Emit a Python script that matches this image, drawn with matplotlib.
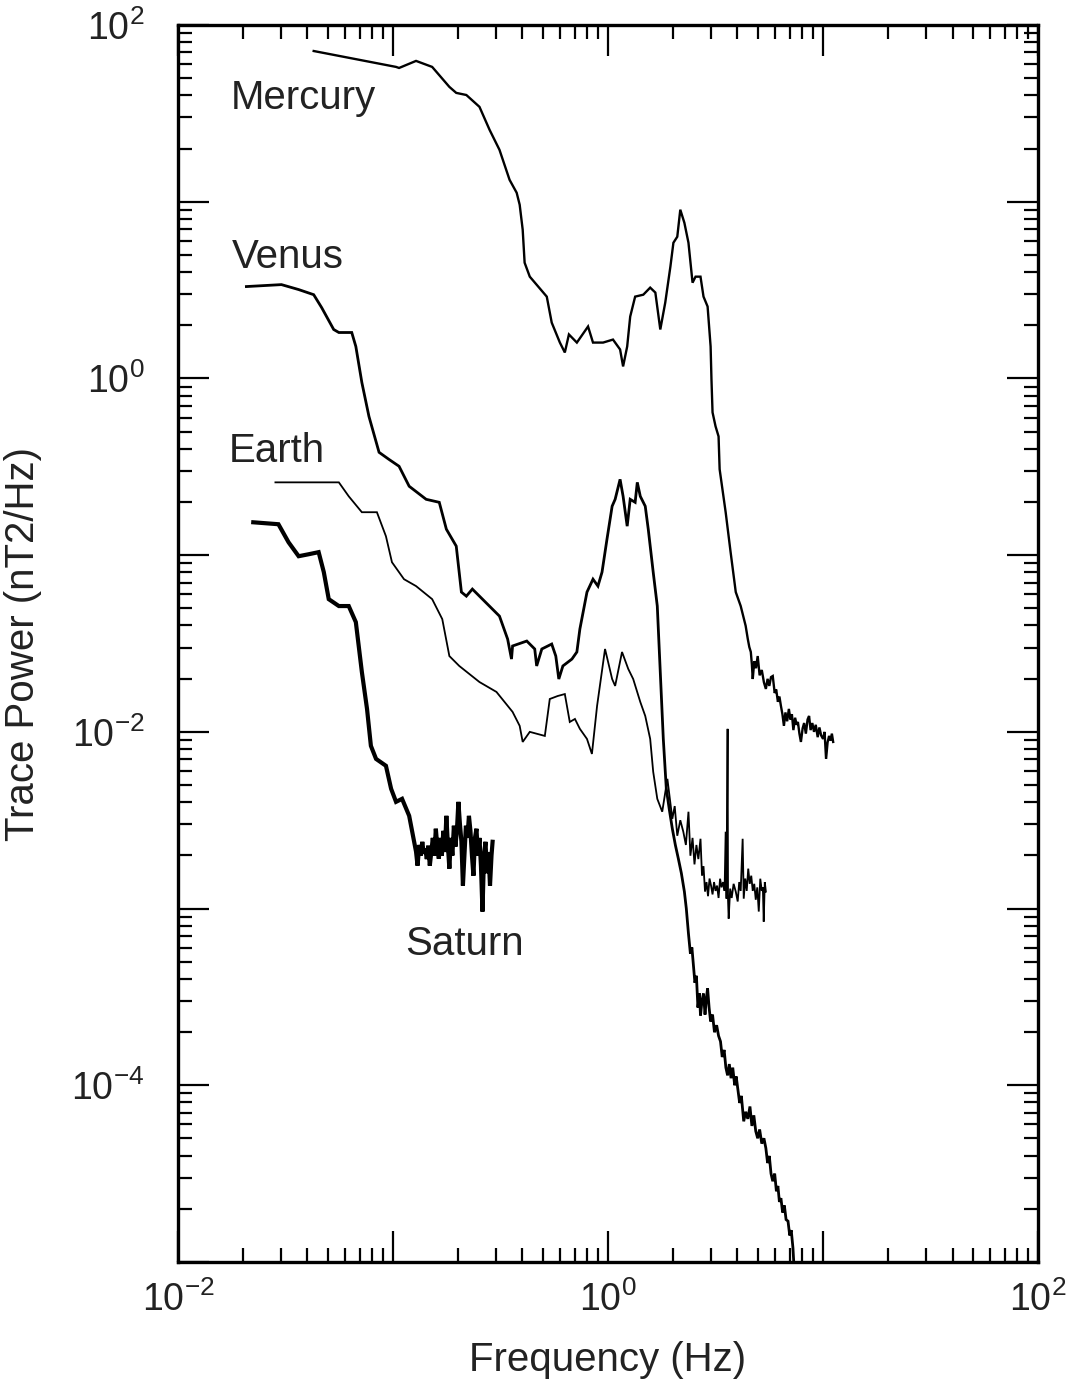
import numpy as np
import matplotlib
matplotlib.use("Agg")
import matplotlib.pyplot as plt
from matplotlib.ticker import FixedLocator, LogLocator, FuncFormatter, NullFormatter

plt.rcParams["font.family"] = ["Liberation Sans", "DejaVu Sans"]
plt.rcParams["mathtext.fontset"] = "custom"
plt.rcParams["mathtext.rm"] = "Liberation Sans"
plt.rcParams["mathtext.it"] = "Liberation Sans:italic"
plt.rcParams["mathtext.bf"] = "Liberation Sans:bold"

# Spectra as log10(frequency / Hz) and log10(power / nT^2 Hz^-1)
mercury_logf = [-1.369, -0.986, -0.972, -0.893, -0.818, -0.738, -0.706, -0.659, -0.598, -0.551,
                -0.505, -0.458, -0.425, -0.411, -0.397, -0.388, -0.364, -0.285, -0.262, -0.224,
                -0.201, -0.182, -0.145, -0.093, -0.070, -0.023, 0.023, 0.056, 0.070, 0.089,
                0.103, 0.126, 0.164, 0.196, 0.220, 0.243, 0.266, 0.290, 0.304, 0.322,
                0.336, 0.355, 0.374, 0.393, 0.407, 0.430, 0.444, 0.463, 0.477, 0.481,
                0.486, 0.500, 0.514, 0.519, 0.547, 0.570, 0.594, 0.617, 0.640, 0.650,
                0.657, 0.664, 0.669, 0.673, 0.680, 0.688, 0.696, 0.705, 0.715, 0.725,
                0.734, 0.742, 0.750, 0.758, 0.766, 0.775, 0.782, 0.790, 0.797, 0.804,
                0.811, 0.818, 0.825, 0.833, 0.841, 0.848, 0.855, 0.862, 0.870, 0.877,
                0.883, 0.890, 0.897, 0.905, 0.912, 0.920, 0.928, 0.935, 0.942, 0.950,
                0.958, 0.966, 0.975, 0.983, 0.991, 1.000, 1.007, 1.014, 1.021, 1.028,
                1.035, 1.041, 1.047]
mercury_logp = [1.853, 1.763, 1.757, 1.797, 1.763, 1.650, 1.616, 1.604, 1.537, 1.407,
                1.294, 1.124, 1.051, 0.983, 0.842, 0.655, 0.576, 0.463, 0.316, 0.203,
                0.147, 0.249, 0.203, 0.294, 0.203, 0.203, 0.220, 0.164, 0.068, 0.181,
                0.350, 0.463, 0.474, 0.514, 0.486, 0.277, 0.429, 0.633, 0.768, 0.802,
                0.955, 0.881, 0.768, 0.542, 0.576, 0.576, 0.463, 0.407, 0.181, -0.006,
                -0.192, -0.271, -0.328, -0.514, -0.757, -0.983, -1.209, -1.288, -1.400, -1.475,
                -1.520, -1.548, -1.620, -1.701, -1.600, -1.640, -1.571, -1.680, -1.650, -1.720,
                -1.757, -1.700, -1.740, -1.690, -1.684, -1.780, -1.760, -1.830, -1.800, -1.853,
                -1.900, -1.966, -1.890, -1.940, -1.870, -1.930, -1.900, -1.990, -1.920, -1.960,
                -1.944, -2.010, -2.057, -1.980, -1.950, -2.010, -1.930, -1.910, -1.990, -1.950,
                -2.000, -1.960, -2.030, -1.975, -2.020, -2.040, -2.000, -2.153, -2.060, -2.023,
                -2.050, -2.010, -2.057]

venus_logf = [-1.682, -1.519, -1.439, -1.369, -1.332, -1.276, -1.252, -1.192, -1.173, -1.145,
              -1.112, -1.065, -1.019, -0.972, -0.925, -0.846, -0.785, -0.752, -0.706, -0.682,
              -0.659, -0.631, -0.584, -0.505, -0.467, -0.449, -0.444, -0.378, -0.341, -0.332,
              -0.308, -0.262, -0.243, -0.229, -0.210, -0.168, -0.145, -0.131, -0.098, -0.070,
              -0.047, -0.028, -0.005, 0.019, 0.033, 0.056, 0.070, 0.089, 0.103, 0.126,
              0.136, 0.150, 0.173, 0.187, 0.210, 0.229, 0.243, 0.257, 0.271, 0.285,
              0.299, 0.313, 0.327, 0.341, 0.355, 0.364, 0.374, 0.383, 0.390, 0.397,
              0.404, 0.411, 0.418, 0.425, 0.430, 0.437, 0.444, 0.451, 0.458, 0.463,
              0.470, 0.477, 0.486, 0.495, 0.505, 0.514, 0.523, 0.531, 0.540, 0.548,
              0.556, 0.564, 0.572, 0.580, 0.589, 0.596, 0.603, 0.612, 0.620, 0.631,
              0.640, 0.650, 0.660, 0.669, 0.678, 0.687, 0.696, 0.705, 0.715, 0.725,
              0.734, 0.742, 0.750, 0.758, 0.766, 0.775, 0.783, 0.790, 0.797, 0.804,
              0.812, 0.820, 0.828, 0.837, 0.845, 0.852, 0.860, 0.865]
venus_logp = [0.520, 0.531, 0.503, 0.474, 0.401, 0.277, 0.260, 0.260, 0.181, -0.023,
              -0.215, -0.418, -0.458, -0.497, -0.610, -0.684, -0.701, -0.853, -0.949, -1.209,
              -1.232, -1.192, -1.249, -1.345, -1.475, -1.588, -1.514, -1.486, -1.531, -1.627,
              -1.531, -1.503, -1.571, -1.701, -1.627, -1.588, -1.548, -1.418, -1.209, -1.136,
              -1.175, -1.096, -0.910, -0.723, -0.684, -0.571, -0.667, -0.836, -0.684, -0.701,
              -0.588, -0.667, -0.723, -0.853, -1.096, -1.288, -1.661, -2.040, -2.322, -2.440,
              -2.548, -2.640, -2.718, -2.800, -2.904, -3.000, -3.142, -3.255, -3.220, -3.322,
              -3.420, -3.380, -3.560, -3.480, -3.605, -3.520, -3.481, -3.600, -3.500, -3.452,
              -3.560, -3.639, -3.600, -3.700, -3.660, -3.720, -3.752, -3.840, -3.800, -3.900,
              -3.944, -3.880, -3.960, -3.900, -4.000, -3.950, -4.017, -4.100, -4.060, -4.204,
              -4.150, -4.190, -4.120, -4.230, -4.170, -4.260, -4.300, -4.250, -4.330, -4.300,
              -4.356, -4.440, -4.400, -4.500, -4.543, -4.500, -4.600, -4.570, -4.660, -4.639,
              -4.720, -4.680, -4.760, -4.769, -4.850, -4.820, -4.921, -5.030]

earth_logf = [-1.547, -1.252, -1.206, -1.145, -1.075, -1.033, -1.005, -0.949, -0.893, -0.818,
              -0.771, -0.738, -0.692, -0.598, -0.519, -0.444, -0.411, -0.397, -0.364, -0.294,
              -0.271, -0.234, -0.201, -0.178, -0.154, -0.131, -0.098, -0.075, -0.051, -0.014,
              0.019, 0.033, 0.065, 0.094, 0.117, 0.150, 0.173, 0.196, 0.210, 0.229,
              0.252, 0.276, 0.299, 0.310, 0.322, 0.336, 0.350, 0.362, 0.374, 0.383,
              0.393, 0.402, 0.411, 0.420, 0.430, 0.437, 0.444, 0.451, 0.458, 0.465,
              0.472, 0.479, 0.486, 0.493, 0.500, 0.507, 0.514, 0.521, 0.528, 0.535,
              0.542, 0.547, 0.551, 0.556, 0.558, 0.561, 0.568, 0.575, 0.584, 0.594,
              0.603, 0.610, 0.617, 0.626, 0.631, 0.638, 0.645, 0.652, 0.659, 0.666,
              0.673, 0.680, 0.687, 0.694, 0.701, 0.708, 0.715, 0.720, 0.724, 0.729,
              0.734]
earth_logp = [-0.588, -0.588, -0.667, -0.757, -0.757, -0.893, -1.040, -1.136, -1.175, -1.249,
              -1.362, -1.571, -1.627, -1.718, -1.774, -1.887, -1.966, -2.057, -2.000, -2.023,
              -1.814, -1.797, -1.786, -1.944, -1.927, -1.983, -2.040, -2.125, -1.853, -1.531,
              -1.701, -1.740, -1.548, -1.644, -1.701, -1.831, -1.910, -2.040, -2.226, -2.379,
              -2.452, -2.266, -2.492, -2.420, -2.588, -2.500, -2.565, -2.640, -2.452, -2.701,
              -2.600, -2.750, -2.640, -2.720, -2.605, -2.814, -2.760, -2.904, -2.850, -2.930,
              -2.830, -2.870, -2.920, -2.850, -2.900, -2.870, -2.940, -2.831, -2.880, -2.850,
              -2.900, -2.565, -2.944, -1.983, -2.950, -3.057, -2.887, -2.940, -2.860, -2.904,
              -2.960, -2.850, -2.900, -2.605, -2.944, -2.830, -2.900, -2.774, -2.860, -2.814,
              -2.900, -2.860, -2.950, -2.880, -3.017, -2.831, -2.900, -2.880, -3.074, -2.850,
              -2.904]

saturn_logf = [-1.650, -1.533, -1.486, -1.439, -1.393, -1.346, -1.322, -1.299, -1.252, -1.206,
               -1.173, -1.145, -1.121, -1.103, -1.079, -1.033, -1.009, -0.986, -0.958, -0.925,
               -0.893, -0.886, -0.878, -0.871, -0.864, -0.857, -0.850, -0.843, -0.836, -0.829,
               -0.822, -0.815, -0.808, -0.801, -0.794, -0.787, -0.780, -0.773, -0.766, -0.759,
               -0.752, -0.745, -0.738, -0.731, -0.724, -0.717, -0.710, -0.703, -0.696, -0.689,
               -0.682, -0.675, -0.668, -0.661, -0.654, -0.647, -0.640, -0.633, -0.626, -0.619,
               -0.612, -0.605, -0.598, -0.591, -0.584, -0.577, -0.570, -0.563, -0.556, -0.549,
               -0.542, -0.537]
saturn_logp = [-0.814, -0.825, -0.927, -1.006, -0.995, -0.983, -1.096, -1.249, -1.288, -1.288,
               -1.379, -1.661, -1.870, -2.079, -2.153, -2.192, -2.322, -2.396, -2.379, -2.475,
               -2.678, -2.757, -2.640, -2.700, -2.622, -2.690, -2.660, -2.720, -2.644, -2.757,
               -2.680, -2.600, -2.700, -2.548, -2.650, -2.718, -2.600, -2.700, -2.560, -2.680,
               -2.475, -2.640, -2.774, -2.600, -2.700, -2.531, -2.650, -2.560, -2.396, -2.520,
               -2.620, -2.870, -2.700, -2.531, -2.600, -2.475, -2.560, -2.700, -2.814, -2.600,
               -2.548, -2.700, -2.600, -2.760, -3.017, -2.700, -2.622, -2.800, -2.680, -2.870,
               -2.700, -2.622]

# Axis decades; only the even ones carry a label
x_decades = [-2, -1, 0, 1, 2]
y_decades = [-5, -4, -3, -2, -1, 0, 1, 2]

series = [
    ("Mercury", mercury_logf, mercury_logp, 1.7),
    ("Venus", venus_logf, venus_logp, 2.0),
    ("Earth", earth_logf, earth_logp, 1.3),
    ("Saturn", saturn_logf, saturn_logp, 3.0),
]

fig = plt.figure(figsize=(10.66, 13.83), dpi=100)
ax = fig.add_axes([0.167, 0.0875, 0.8068, 0.8944])

for name, lf, lp, lw in series:
    ax.plot(10 ** np.asarray(lf), 10 ** np.asarray(lp), color="black", lw=lw,
            solid_joinstyle="miter")

ax.set_xscale("log")
ax.set_yscale("log")
ax.set_xlim(10.0 ** x_decades[0], 10.0 ** x_decades[-1])
ax.set_ylim(10.0 ** y_decades[0], 10.0 ** y_decades[-1])

def even_decade(v, pos):
    e = int(round(np.log10(v)))
    if e % 2 == 0:
        return r"$\mathregular{10^{%d}}$" % e
    return ""

for axis, decades in ((ax.xaxis, x_decades), (ax.yaxis, y_decades)):
    axis.set_major_locator(FixedLocator([10.0 ** d for d in decades]))
    axis.set_minor_locator(LogLocator(base=10, subs=np.arange(2, 10), numticks=20))
    axis.set_major_formatter(FuncFormatter(even_decade))
    axis.set_minor_formatter(NullFormatter())

ax.tick_params(which="both", direction="in", top=True, right=True, width=1.6,
               color="black", labelsize=27, labelcolor="#222222")
ax.tick_params(which="major", length=22)
ax.tick_params(which="minor", length=10)
ax.tick_params(axis="x", which="major", pad=14)
ax.tick_params(axis="y", which="major", pad=24)

for sp in ax.spines.values():
    sp.set_linewidth(2.4)
    sp.set_color("black")

ax.set_xlabel("Frequency (Hz)", fontsize=29, color="#222222")
ax.set_ylabel("Trace Power (nT2/Hz)", fontsize=29, color="#222222")
ax.xaxis.set_label_coords(0.5, -0.064)
ax.yaxis.set_label_coords(-0.158, 0.5)

label_pos = {
    "Mercury": (0.0175, 38.7),
    "Venus": (0.0177, 4.89),
    "Earth": (0.0173, 0.387),
    "Saturn": (0.1138, 6.27e-4),
}
for name, (x, y) in label_pos.items():
    ax.text(x, y, name, fontsize=29, color="#222222", ha="left", va="center")

fig.savefig("out.png", dpi=100)
